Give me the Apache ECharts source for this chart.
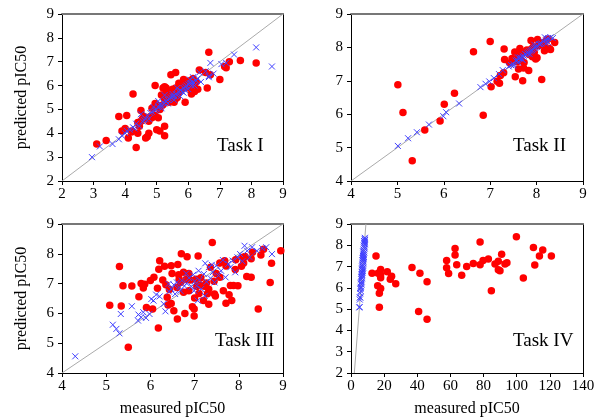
<!DOCTYPE html>
<html><head><meta charset="utf-8">
<script src="https://cdn.jsdelivr.net/npm/echarts@6/dist/echarts.min.js"></script>
<style>html,body{margin:0;padding:0;background:#fff}#c{width:600px;height:420px}</style>
</head><body><div id="c"></div>
<script>
// ---- Data ----
const taskLabels = ['Task I', 'Task II', 'Task III', 'Task IV'];
const xAxisTitle = 'measured pIC50';
const yAxisTitle = 'predicted pIC50';

const xRanges = [[2, 9, 1], [4, 9, 1], [4, 9, 1], [0, 140, 20]];
const yRanges = [[2, 9, 1], [4, 9, 1], [4, 9, 1], [2, 9, 1]];
const diagLine1 = [[2, 2], [9, 9]];
const diagLine2 = [[4, 4], [9, 9]];
const diagLine3 = [[4, 4], [9, 9]];
const diagLine4 = [[2, 2], [9, 9]];

const red1 = [[3.1,3.55],[3.4,3.7],[3.8,4.7],[4.05,4.75],[3.9,4.1],[4.0,4.2],[4.1,3.8],[4.2,4.05],[4.35,3.4],[4.4,4.0],[4.25,5.65],[4.45,4.3],[4.5,4.95],[4.4,4.45],[4.55,4.6],[4.65,3.8],[4.7,3.85],[4.75,4.0],[4.75,4.5],[4.8,4.7],[4.85,4.65],[4.95,4.75],[4.95,6.0],[5.0,4.15],[5.05,4.65],[5.1,4.1],[5.25,4.3],[5.25,3.9],[4.95,5.25],[5.05,5.15],[5.15,5.6],[5.2,5.9],[5.25,5.95],[5.3,5.8],[5.3,5.9],[5.35,5.6],[5.4,5.3],[5.45,6.45],[5.5,5.5],[5.55,5.7],[5.6,6.55],[5.6,5.9],[5.65,5.6],[5.7,6.1],[5.75,5.95],[5.8,5.85],[5.85,6.25],[5.9,5.3],[5.95,6.05],[6.0,5.9],[6.05,6.2],[6.1,5.65],[6.15,5.85],[6.15,6.3],[6.2,5.75],[6.25,6.15],[6.3,5.85],[6.35,6.65],[6.55,6.55],[6.6,5.9],[6.65,7.4],[6.7,6.45],[7.0,6.25],[7.15,6.8],[7.2,6.75],[7.3,7.0],[7.65,7.05],[8.15,6.95],[5.1,5.0],[5.2,5.2],[5.4,5.6],[5.6,5.45],[5.8,5.95],[6.05,6.0],[6.2,6.1],[4.85,5.05],[4.6,4.7],[5.35,5.45],[5.5,5.85],[5.7,5.7],[4.2,4.1],[4.5,4.5],[5.65,5.5],[6.0,6.05],[5.25,5.45],[5.55,5.3]];
const blue1 = [[2.95,3.0],[3.2,3.45],[3.6,3.55],[3.8,3.75],[3.9,3.9],[4.0,4.0],[4.05,4.1],[4.15,4.15],[4.25,4.25],[4.35,4.4],[4.45,4.3],[4.5,4.8],[4.55,4.5],[4.65,4.6],[4.7,4.75],[4.8,4.85],[4.85,4.9],[4.9,5.1],[4.95,4.95],[5.0,5.0],[5.05,5.1],[5.1,5.2],[5.15,5.15],[5.2,5.3],[5.25,5.25],[5.25,5.6],[5.3,5.35],[5.35,5.4],[5.4,5.45],[5.45,5.5],[5.5,5.55],[5.55,5.55],[5.6,5.65],[5.65,5.6],[5.7,5.75],[5.75,5.8],[5.8,5.75],[5.85,5.9],[5.9,5.95],[5.95,6.0],[6.0,6.05],[6.05,6.1],[6.1,6.1],[6.15,6.15],[6.2,6.0],[6.25,6.2],[6.3,6.3],[6.35,6.55],[6.4,6.15],[6.55,6.6],[6.65,6.4],[6.7,6.95],[6.65,6.35],[6.8,6.5],[7.05,6.9],[7.2,6.95],[7.45,7.3],[8.15,7.6],[8.65,6.8],[5.55,5.4],[5.75,5.55],[6.1,6.0],[5.9,5.8],[6.05,6.25],[5.35,5.25],[5.15,5.05],[4.75,4.6],[5.5,5.65],[5.65,5.9],[5.85,5.7],[6.15,6.35],[6.0,5.85],[4.6,4.55],[5.05,5.35],[4.3,4.2]];

const red2 = [[5.01,6.88],[5.12,6.05],[5.32,4.61],[5.59,5.53],[5.92,5.8],[6.01,6.3],[6.23,6.63],[6.64,7.87],[6.85,5.97],[7.0,8.18],[7.02,6.82],[7.15,6.99],[7.2,6.93],[7.3,7.95],[7.31,7.64],[7.29,7.24],[7.22,7.16],[7.42,7.53],[7.53,7.86],[7.54,7.12],[7.6,7.74],[7.61,7.35],[7.7,7.0],[7.73,7.55],[7.72,7.38],[7.83,7.31],[7.88,8.21],[7.91,7.72],[7.98,7.65],[8.02,8.24],[8.11,7.04],[8.17,7.9],[8.21,8.22],[8.27,7.97],[8.39,8.15],[8.01,7.69],[8.05,8.05],[7.93,8.02],[7.79,7.92],[7.64,7.97],[7.84,7.79],[7.58,7.57],[7.68,7.87],[8.08,8.1],[8.3,7.94],[8.14,8.14],[7.47,7.67],[7.75,7.85],[7.95,7.85],[8.2,8.0],[7.66,7.62],[7.89,7.95],[8.25,8.25]];
const blue2 = [[5.01,5.05],[5.23,5.28],[5.42,5.46],[5.68,5.69],[5.99,5.94],[6.05,6.06],[6.33,6.32],[6.79,6.81],[6.9,6.91],[6.98,6.98],[7.08,7.08],[7.19,7.2],[7.27,7.32],[7.4,7.43],[7.45,7.47],[7.5,7.5],[7.55,7.6],[7.58,7.62],[7.6,7.55],[7.63,7.67],[7.65,7.7],[7.68,7.65],[7.7,7.72],[7.72,7.75],[7.75,7.8],[7.78,7.78],[7.8,7.82],[7.82,7.85],[7.85,7.88],[7.88,7.9],[7.9,7.92],[7.92,7.95],[7.95,7.98],[7.97,8.0],[8.0,8.02],[8.02,8.05],[8.05,8.1],[8.08,8.1],[8.1,8.12],[8.15,8.18],[8.2,8.2],[8.22,8.25],[8.25,8.28],[8.3,8.3],[8.35,8.28],[8.2,8.12],[8.25,8.15],[7.95,8.08],[7.6,7.7],[7.5,7.45],[7.7,7.62],[7.85,7.8],[8.18,8.3]];

const red3 = [[5.3,7.57],[5.08,6.27],[5.38,6.93],[5.34,6.25],[5.58,6.92],[5.5,4.86],[5.74,6.56],[5.79,7.0],[5.84,6.85],[5.87,6.98],[5.91,6.2],[6.0,7.1],[6.05,6.15],[6.08,7.21],[6.16,6.84],[6.18,5.51],[6.19,7.48],[6.21,7.77],[6.32,7.58],[6.35,6.96],[6.43,6.8],[6.47,7.6],[6.49,7.34],[6.4,6.28],[6.38,6.54],[6.47,6.33],[6.53,6.09],[6.61,5.81],[6.62,7.64],[6.64,7.3],[6.7,8.0],[6.68,7.04],[6.75,6.71],[6.78,6.0],[6.83,7.9],[6.87,7.34],[6.9,7.12],[6.95,6.22],[6.99,5.91],[6.99,6.15],[7.08,7.93],[7.05,6.9],[7.1,6.67],[7.14,7.2],[7.22,6.91],[7.2,6.43],[7.29,6.66],[7.32,6.81],[7.36,7.55],[7.4,8.38],[7.44,7.08],[7.45,6.65],[7.47,6.58],[7.49,7.34],[7.57,7.69],[7.65,6.76],[7.68,7.77],[7.71,6.34],[7.78,6.63],[7.81,6.94],[7.84,6.43],[7.88,6.94],[7.93,7.8],[7.98,6.93],[8.06,7.58],[8.11,7.69],[8.14,7.91],[8.18,7.24],[8.28,7.21],[8.28,7.83],[8.31,8.05],[8.44,6.15],[8.5,7.96],[8.56,8.15],[8.71,7.04],[8.74,7.68],[8.95,8.1],[7.0,6.52],[6.6,6.87],[6.65,7.15],[6.75,7.38],[7.03,7.15],[7.13,6.95],[7.27,7.02],[7.57,7.21],[7.92,7.47],[8.09,7.88],[6.81,7.14],[7.32,6.31],[6.28,7.12],[6.87,6.76],[7.71,7.59]];
const blue3 = [[4.3,4.56],[5.15,5.62],[5.23,5.48],[5.3,5.33],[5.33,5.98],[5.58,6.24],[5.72,5.76],[5.79,5.87],[5.84,6.04],[5.9,5.85],[5.98,5.98],[6.02,6.48],[6.07,6.43],[6.13,6.63],[6.21,6.57],[6.3,6.32],[6.34,6.07],[6.42,6.73],[6.47,6.82],[6.53,6.96],[6.56,6.65],[6.6,7.04],[6.65,6.87],[6.71,7.1],[6.77,6.92],[6.82,7.01],[6.87,7.19],[6.93,6.9],[6.97,7.3],[7.0,7.08],[7.05,6.93],[7.09,7.43],[7.11,7.12],[7.15,6.82],[7.21,7.32],[7.24,7.68],[7.27,7.06],[7.32,7.55],[7.36,7.18],[7.41,7.38],[7.45,7.04],[7.49,7.6],[7.54,7.27],[7.6,7.43],[7.64,7.79],[7.7,7.21],[7.76,7.66],[7.81,7.55],[7.86,7.77],[7.92,7.38],[7.97,7.88],[8.03,7.99],[8.08,7.75],[8.13,8.27],[8.19,8.1],[8.25,7.88],[8.3,8.22],[8.41,8.1],[8.53,8.19],[8.62,8.22],[8.75,7.99],[5.73,5.96],[6.41,6.99],[6.81,7.34],[7.23,6.59],[7.39,7.63],[7.07,6.43],[6.68,6.76],[6.99,6.76]];

const red4 = [[12.7,6.69],[15.1,7.5],[16.3,6.69],[16.1,6.1],[17.1,5.75],[17.1,5.09],[17.9,6.86],[17.9,6.63],[17.9,6.47],[17.9,5.97],[21.9,6.76],[24.5,6.55],[23.7,6.4],[27.0,6.19],[36.8,6.96],[41.6,6.69],[40.8,4.89],[45.9,6.29],[45.9,4.53],[57.7,7.29],[57.7,6.95],[58.9,6.67],[62.8,7.85],[62.8,7.54],[63.8,7.09],[66.8,6.59],[69.8,7.0],[73.8,7.14],[77.9,8.15],[77.9,7.09],[79.7,7.28],[82.9,7.36],[84.7,5.86],[86.9,7.12],[88.9,7.25],[88.9,6.85],[89.9,6.8],[90.9,7.58],[92.9,7.12],[94.1,7.18],[99.8,8.4],[104.0,6.46],[110.1,7.9],[110.9,7.07],[113.7,7.5],[115.7,7.78],[120.9,7.5]];
const blue4 = [[5.0,5.08],[5.2,5.1],[5.3,5.45],[5.5,5.55],[5.6,5.75],[5.9,5.85],[5.7,5.95],[6.0,6.05],[6.3,6.15],[6.1,6.25],[6.4,6.3],[6.2,6.4],[6.6,6.45],[6.5,6.55],[6.8,6.6],[6.4,6.65],[6.9,6.7],[6.7,6.75],[7.1,6.8],[6.6,6.85],[7.0,6.9],[7.3,6.95],[6.8,7.0],[7.2,7.05],[7.0,7.1],[7.5,7.15],[7.1,7.2],[7.4,7.25],[6.9,7.3],[7.6,7.35],[7.3,7.4],[7.8,7.45],[7.2,7.5],[7.7,7.55],[7.5,7.6],[8.0,7.65],[7.4,7.7],[7.9,7.75],[7.6,7.8],[8.2,7.85],[7.8,7.9],[8.1,7.95],[7.7,8.0],[8.4,8.05],[8.0,8.1],[8.3,8.15],[7.9,8.2],[8.5,8.25],[8.2,8.3],[8.4,8.35],[5.4,5.55],[5.8,6.0],[6.0,6.2],[6.3,6.5],[6.7,6.9],[7.2,7.3],[7.6,7.7],[8.1,8.2],[6.5,6.75],[7.0,7.4]];

// ---- Build chart ----
const reds = [red1, red2, red3, red4];
const blues = [blue1, blue2, blue3, blue4];
const diags = [diagLine1, diagLine2, diagLine3, diagLine4];
const FONT = 'Liberation Serif';
const grids = [
  {left: 62, top: 14, width: 221, height: 167},
  {left: 351, top: 14, width: 232, height: 167},
  {left: 62, top: 224, width: 221, height: 149},
  {left: 351, top: 224, width: 232, height: 149}
];
const labelPos = [[217, 148], [513, 148], [215, 343], [513, 343]];

const xAxes = [], yAxes = [], series = [], graphics = [];
for (let p = 0; p < 4; p++) {
  const [xmin, xmax, xint] = xRanges[p];
  const [ymin, ymax, yint] = yRanges[p];
  xAxes.push({
    gridIndex: p, type: 'value', position: 'bottom', min: xmin, max: xmax, interval: xint,
    splitLine: {show: false},
    axisLine: {onZero: false, lineStyle: {color: '#000', width: 1}},
    axisTick: {inside: false, length: 4, lineStyle: {color: '#000'}},
    axisLabel: {color: '#000', fontFamily: FONT, fontSize: 15, margin: 6},
    name: p >= 2 ? xAxisTitle : '', nameLocation: 'middle', nameGap: 28,
    nameTextStyle: {color: '#000', fontFamily: FONT, fontSize: 16}
  });
  xAxes.push({
    gridIndex: p, type: 'value', position: 'top', min: xmin, max: xmax, interval: xint,
    splitLine: {show: false}, axisTick: {show: false}, axisLabel: {show: false},
    axisLine: {onZero: false, lineStyle: {color: '#777', width: 2}}
  });
  yAxes.push({
    gridIndex: p, type: 'value', position: 'left', min: ymin, max: ymax, interval: yint,
    splitLine: {show: false},
    axisLine: {onZero: false, lineStyle: {color: '#000', width: 1}},
    axisTick: {inside: false, length: 4, lineStyle: {color: '#000'}},
    axisLabel: {color: '#000', fontFamily: FONT, fontSize: 15, margin: 8},
    name: (p === 0 || p === 2) ? yAxisTitle : '', nameLocation: 'middle', nameGap: 32,
    nameTextStyle: {color: '#000', fontFamily: FONT, fontSize: 16}
  });
  yAxes.push({
    gridIndex: p, type: 'value', position: 'right', min: ymin, max: ymax, interval: yint,
    splitLine: {show: false}, axisTick: {show: false}, axisLabel: {show: false},
    axisLine: {onZero: false, lineStyle: {color: '#000', width: 1}}
  });
  series.push({
    type: 'line', xAxisIndex: 2 * p, yAxisIndex: 2 * p, data: diags[p], symbol: 'none',
    lineStyle: {color: '#aaa', width: 1}, silent: true, animation: false, clip: true, z: 1
  });
  series.push({
    type: 'scatter', xAxisIndex: 2 * p, yAxisIndex: 2 * p, data: reds[p],
    symbol: 'circle', symbolSize: 7.5, itemStyle: {color: '#ff0000', opacity: 1},
    animation: false, z: 2
  });
  series.push({
    type: 'scatter', xAxisIndex: 2 * p, yAxisIndex: 2 * p, data: blues[p],
    symbol: 'path://M0,0L10,10M10,0L0,10', symbolSize: 6,
    itemStyle: {color: 'rgba(0,0,0,0)', borderColor: '#4040ff', borderWidth: 1, opacity: 1},
    animation: false, z: 3
  });
  graphics.push({
    type: 'text', left: labelPos[p][0], top: labelPos[p][1] - 11, z: 10,
    style: {text: taskLabels[p], font: '19px "Liberation Serif"', fill: '#000'}
  });
}

const chart = echarts.init(document.getElementById('c'), null, {renderer: 'canvas'});
chart.setOption({
  animation: false,
  backgroundColor: '#fff',
  grid: grids,
  xAxis: xAxes,
  yAxis: yAxes,
  series: series,
  graphic: graphics
});
</script></body></html>
